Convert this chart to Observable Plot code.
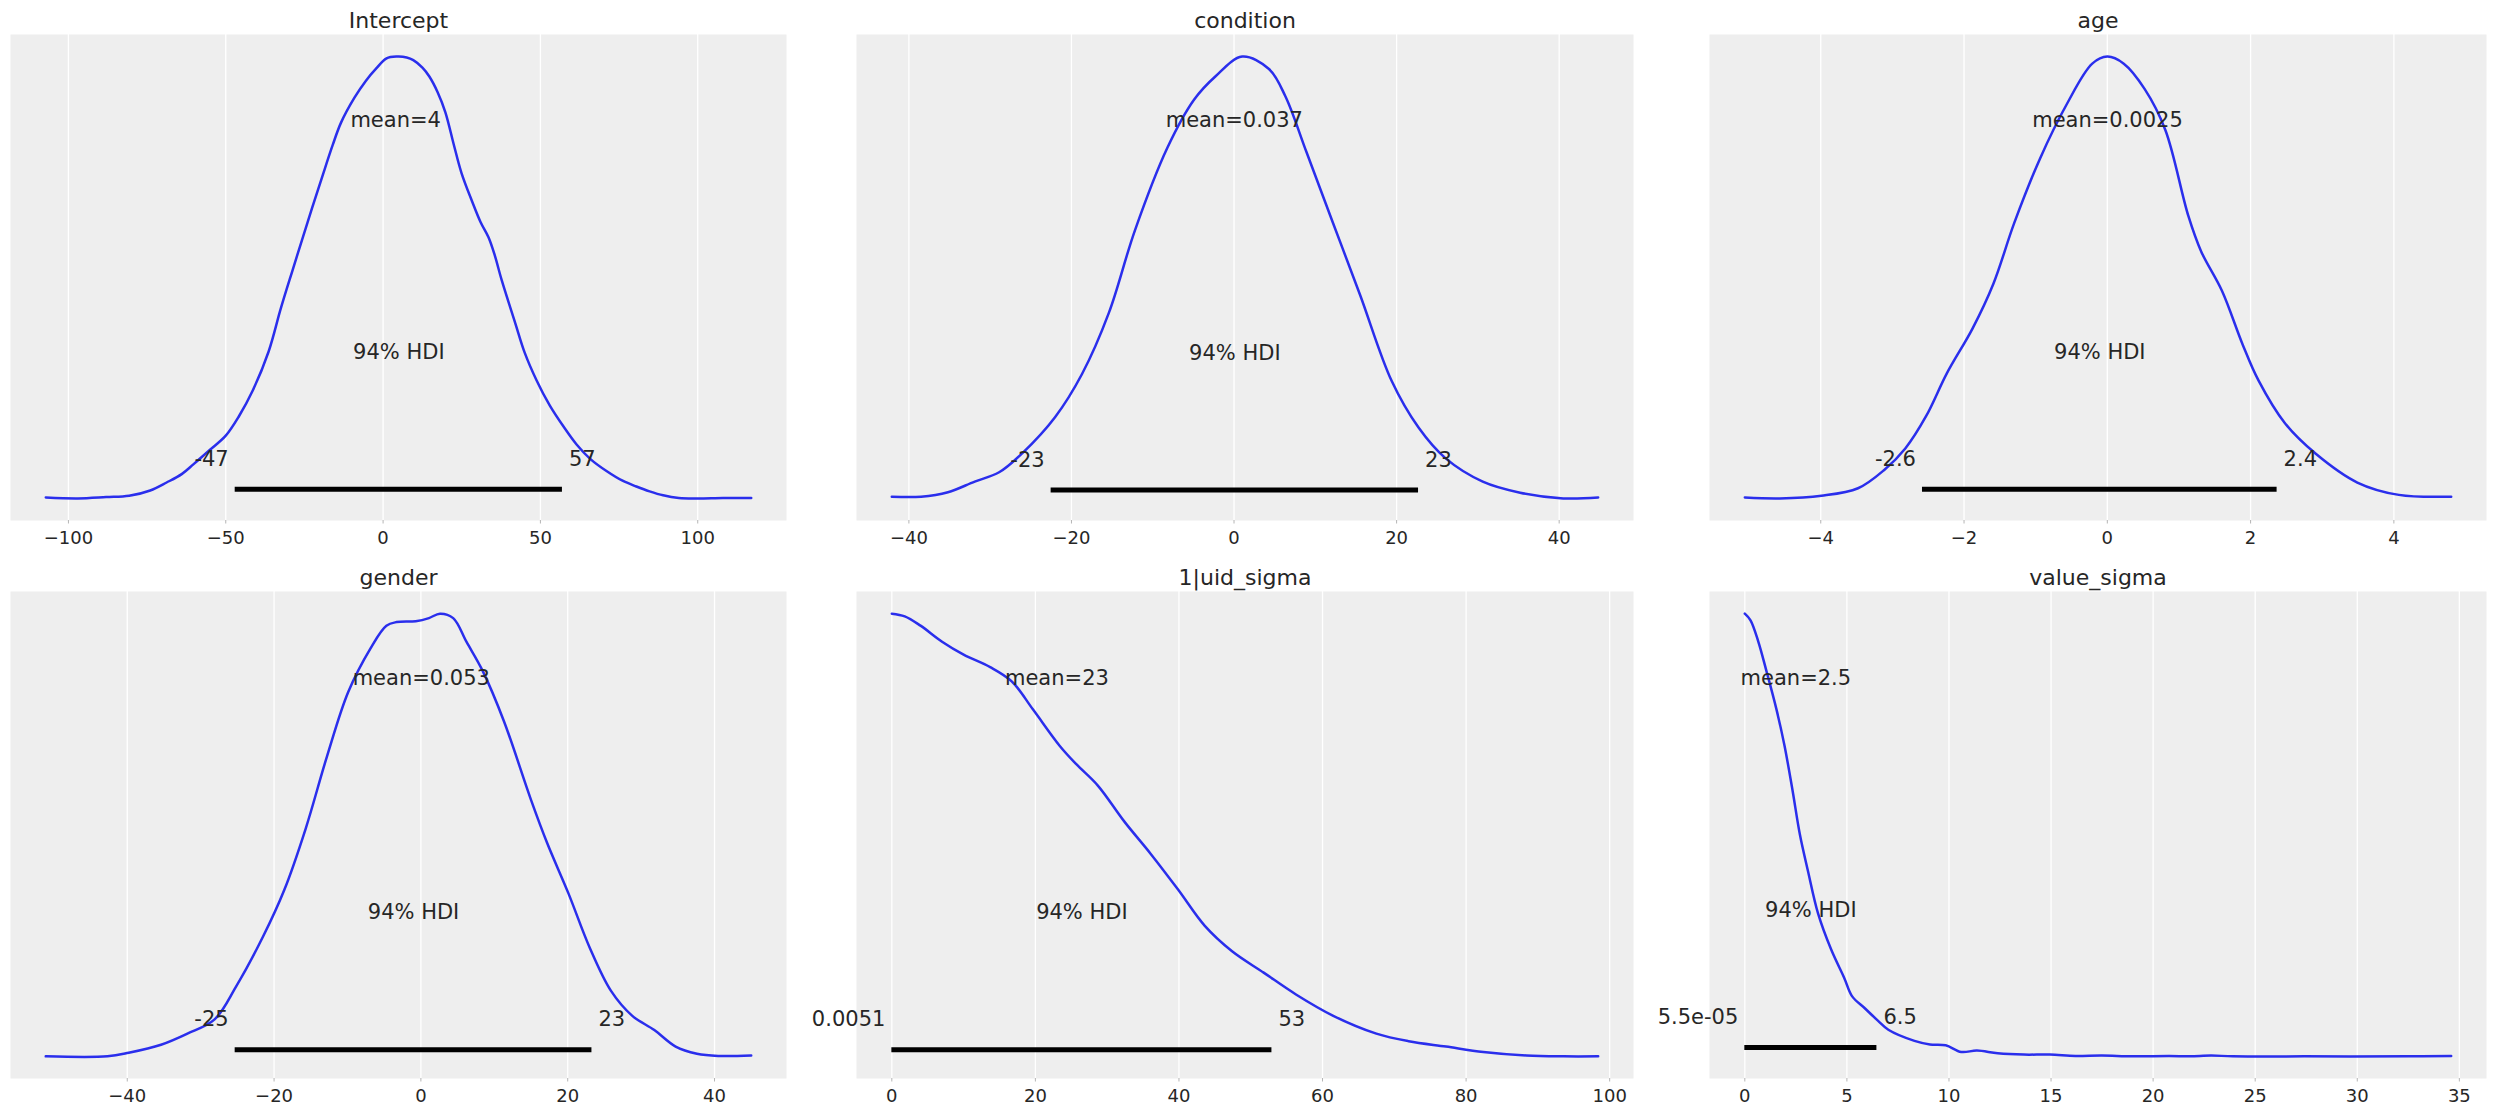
<!DOCTYPE html>
<html><head><meta charset="utf-8">
<script src="https://cdn.jsdelivr.net/npm/d3@7"></script>
<script src="https://cdn.jsdelivr.net/npm/@observablehq/plot@0.6"></script>
<style>
html,body{margin:0;padding:0;background:#fff;overflow:hidden;width:2495px;height:1115px;}
#root{position:relative;width:2495px;height:1115px;overflow:hidden;}
.cell{position:absolute;}
.cell svg{max-width:none !important;display:block;}
</style></head><body><div id="root"></div>
<script>
// ---- data ----
const titles = ["Intercept", "condition", "age", "gender", "1|uid_sigma", "value_sigma"];

const interceptX = [-107.2,-97,-88,-80.7,-74,-68.8,-64,-60.3,-55,-50,-45.8,-41.5,-36.4,-32.5,-28.7,-24,-19.3,-16,-13.4,-9.1,-5.5,-2.3,1.1,4.5,7.5,9.6,12.5,14.7,17.3,19.8,22.5,24.9,28.3,31,33.5,35.5,37.7,42,45,48.8,53,57.4,61.5,65.9,71,76.1,80.5,84.7,89,94,100,108,117];
const interceptY = [0.002,0,0.003,0.006,0.018,0.036,0.055,0.077,0.11,0.142,0.186,0.243,0.332,0.43,0.518,0.625,0.729,0.8,0.85,0.907,0.945,0.972,0.996,1.0,0.998,0.992,0.975,0.955,0.92,0.874,0.8,0.737,0.672,0.625,0.591,0.55,0.494,0.397,0.33,0.267,0.21,0.162,0.122,0.089,0.062,0.04,0.027,0.016,0.007,0.001,0,0.001,0.001];

const conditionX = [-42.1,-38.5,-35.2,-31.9,-28.9,-26,-22,-18.7,-15.4,-12.2,-8.2,-4.9,-2.3,1.0,4.3,6.3,8.9,12.2,15.5,19.4,22.7,26,30.6,35.2,40.5,44.8];
const conditionY = [0.006,0.006,0.016,0.04,0.061,0.105,0.186,0.283,0.421,0.607,0.794,0.903,0.955,1.0,0.972,0.911,0.785,0.623,0.462,0.267,0.162,0.093,0.04,0.015,0.002,0.004];

const ageX = [-5.06,-4.57,-3.99,-3.48,-3.11,-2.82,-2.53,-2.24,-1.88,-1.59,-1.3,-0.94,-0.57,-0.21,0,0.23,0.52,0.81,1.13,1.31,1.6,1.89,2.11,2.48,2.91,3.49,4.07,4.8];
const ageY = [0.002,0,0.006,0.023,0.065,0.113,0.186,0.283,0.385,0.486,0.623,0.769,0.891,0.984,1.0,0.984,0.927,0.834,0.64,0.559,0.47,0.348,0.267,0.17,0.101,0.036,0.008,0.004];

const genderX = [-51.1,-42.7,-39.8,-35.4,-31.8,-28.1,-25.2,-21.5,-18.6,-15.7,-12.8,-9.9,-6.9,-4.7,-3.3,-0.7,1.1,2.6,4.4,6.2,8.4,11.3,15.0,17.2,20.1,23.0,25.9,28.8,31.8,34.7,37.6,40.5,45.0];
const genderY = [0.006,0.006,0.014,0.032,0.057,0.089,0.162,0.275,0.38,0.517,0.679,0.824,0.921,0.973,0.981,0.983,0.99,1.0,0.99,0.937,0.872,0.759,0.582,0.485,0.372,0.25,0.153,0.097,0.065,0.028,0.012,0.007,0.008];

const uidX = [0,1.8,4.0,7.0,10.0,13.7,16.7,19.7,23.4,25.7,28.7,32.4,36.1,39.9,43.6,47.4,51.8,56.3,61.5,67.5,72.0,77.2,82.4,88.4,93.6,98.4];
const uidY = [1.0,0.994,0.973,0.937,0.908,0.88,0.848,0.784,0.703,0.662,0.614,0.533,0.46,0.38,0.299,0.242,0.194,0.145,0.097,0.057,0.04,0.028,0.016,0.008,0.006,0.006];

const valueX = [0,0.28,0.66,1.05,1.55,1.94,2.32,2.7,3.09,3.59,4.23,4.87,5.25,5.89,6.53,7.03,8.31,9.07,9.84,10.6,11.37,12.39,13.66,14.94,16.2,17.49,19.0,20.8,21.8,22.84,23.9,27.4,32.5,34.6];
const valueY = [1.0,0.985,0.937,0.872,0.784,0.703,0.606,0.501,0.42,0.323,0.242,0.178,0.137,0.109,0.081,0.061,0.036,0.028,0.026,0.011,0.014,0.008,0.005,0.005,0.002,0.003,0.001,0.002,0.001,0.003,0.001,0.001,0.001,0.002];

const meanValues = [4, 0.037, 0.0025, 0.053, 23, 2.5];
const meanLabels = ["mean=4", "mean=0.037", "mean=0.0025", "mean=0.053", "mean=23", "mean=2.5"];
const hdiLow = [-47, -22.5, -2.58, -25.3, 0.0051, 0.000055];
const hdiHigh = [57, 22.7, 2.37, 23.3, 52.95, 6.47];
const hdiLowLabels = ["-47", "-23", "-2.6", "-25", "0.0051", "5.5e-05"];
const hdiHighLabels = ["57", "23", "2.4", "23", "53", "6.5"];
const hdiText = "94% HDI";
const tickValues = [
  [-100, -50, 0, 50, 100],
  [-40, -20, 0, 20, 40],
  [-4, -2, 0, 2, 4],
  [-40, -20, 0, 20, 40],
  [0, 20, 40, 60, 80, 100],
  [0, 5, 10, 15, 20, 25, 30, 35]
];
const seriesX = [interceptX, conditionX, ageX, genderX, uidX, valueX];
const seriesY = [interceptY, conditionY, ageY, genderY, uidY, valueY];

// ---- layout ----
const colLeft = [10, 856, 1709];
const colWidth = [776, 777, 777];
const rowTop = [33.5, 591];
const rowHeight = [486, 487];
const ML = 80, MR = 80, MT = 33;
const rowMB = [40, 34];
const TEXT = "#262626";
const root = document.getElementById("root");

for (let i = 0; i < 6; i++) {
  const r = Math.floor(i / 3), c = i % 3;
  const xs = seriesX[i], ys = seriesY[i];
  const data = xs.map((x, j) => ({x, y: ys[j]}));
  const [x0, x1] = d3.extent(xs);
  const px = 0.05 * (x1 - x0);
  const [y0, y1] = d3.extent(ys);
  const py = 0.05 * (y1 - y0);
  const H = y1 + py; // top of y range, as arviz uses
  const W = colWidth[c] + ML + MR;
  const Ht = MT + rowHeight[r] + rowMB[r];
  const chart = Plot.plot({
    width: W,
    height: Ht,
    marginLeft: ML, marginRight: MR, marginTop: MT, marginBottom: rowMB[r],
    x: {domain: [x0 - px, x1 + px], label: null},
    y: {domain: [y0 - py, y1 + py], axis: null},
    style: {fontFamily: "DejaVu Sans", color: TEXT, background: "transparent", overflow: "visible", maxWidth: "none"},
    marks: [
      Plot.frame({fill: "#eeeeee", stroke: null}),
      Plot.gridX({ticks: tickValues[i], stroke: "white", strokeOpacity: 1, strokeWidth: 1.3}),
      Plot.axisX({ticks: tickValues[i], tickSize: 3.5, tickPadding: 7.5, fontSize: 18, stroke: "#b5b5b5", fill: TEXT, label: null}),
      Plot.line(data, {x: "x", y: "y", stroke: "#2a2eec", strokeWidth: 2.5, curve: "catmull-rom"}),
      Plot.ruleY([H * 0.02], {x1: hdiLow[i], x2: hdiHigh[i], stroke: "black", strokeWidth: 5, strokeLinecap: "butt"}),
      Plot.text([hdiLowLabels[i]], {x: hdiLow[i], y: H * 0.07, text: d => d, textAnchor: "end", lineAnchor: "bottom", dx: -6.5, fontSize: 21, fill: TEXT}),
      Plot.text([hdiHighLabels[i]], {x: hdiHigh[i], y: H * 0.07, text: d => d, textAnchor: "start", lineAnchor: "bottom", dx: 6.5, fontSize: 21, fill: TEXT}),
      Plot.text([hdiText], {x: (hdiLow[i] + hdiHigh[i]) / 2, y: H * 0.3, text: d => d, lineAnchor: "bottom", fontSize: 21, fill: TEXT}),
      Plot.text([meanLabels[i]], {x: meanValues[i], y: H * 0.8, text: d => d, lineAnchor: "bottom", fontSize: 21, fill: TEXT}),
      Plot.text([titles[i]], {frameAnchor: "top", text: d => d, lineAnchor: "bottom", dy: -6.8, fontSize: 22, fill: TEXT})
    ]
  });
  const cell = document.createElement("div");
  cell.className = "cell";
  cell.style.left = (colLeft[c] - ML) + "px";
  cell.style.top = (rowTop[r] - MT) + "px";
  cell.style.width = W + "px";
  cell.style.height = Ht + "px";
  cell.appendChild(chart);
  root.appendChild(cell);
}
</script></body></html>
